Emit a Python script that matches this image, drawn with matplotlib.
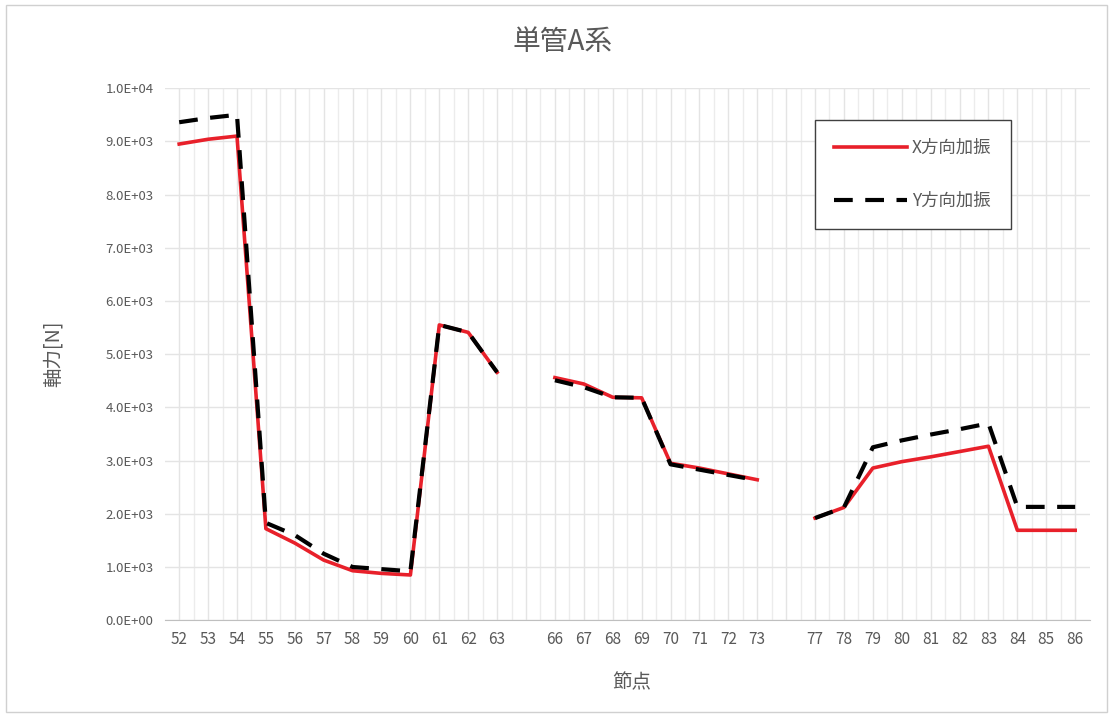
import numpy as np
import matplotlib
matplotlib.use('Agg')
import matplotlib.pyplot as plt
from matplotlib.patches import Rectangle
from matplotlib.ticker import FuncFormatter, MultipleLocator

plt.rcParams['font.family'] = ['Noto Sans CJK JP', 'DejaVu Sans']

# 節点 (空白 = 欠番)
nodes = ['52', '53', '54', '55', '56', '57', '58', '59', '60', '61', '62', '63', '',
         '66', '67', '68', '69', '70', '71', '72', '73', '',
         '77', '78', '79', '80', '81', '82', '83', '84', '85', '86']

# X方向加振
x_force = [8950, 9040, 9100, 1720, 1450, 1130, 930, 880, 850, 5550, 5410, 4660, np.nan,
           4560, 4440, 4190, 4180, 2950, 2860, 2750, 2640, np.nan,
           1920, 2120, 2860, 2980, 3070, 3170, 3270, 1690, 1690, 1690]

# Y方向加振
y_force = [9360, 9440, 9500, 1830, 1600, 1250, 1000, 960, 920, 5550, 5410, 4660, np.nan,
           4510, 4380, 4190, 4180, 2930, 2830, 2730, 2630, np.nan,
           1920, 2120, 3250, 3380, 3490, 3590, 3700, 2130, 2130, 2130]

GRAY = '#595959'

fig = plt.figure(figsize=(11.13, 7.17), dpi=100)
ax = fig.add_axes([0.148, 0.135, 0.831, 0.742])

pos = np.arange(len(nodes))
ax.plot(pos, x_force, color='#e8202a', lw=2.6, label='X方向加振', zorder=3)
ax.plot(pos, y_force, color='black', lw=3, ls=(0, (4.5, 3)), label='Y方向加振', zorder=4)

ax.set_xlim(-0.5, len(nodes) - 0.5)
ax.set_ylim(0, 10000)
ax.set_xticks(pos)
ax.set_xticklabels(nodes)
ax.set_xticks(pos[:-1] + 0.5, minor=True)
ax.yaxis.set_major_locator(MultipleLocator(1000))
ax.yaxis.set_major_formatter(FuncFormatter(lambda v, p: '%.1E' % v))

ax.grid(True, which='major', color='#e4e4e4', lw=1)
ax.grid(True, which='minor', axis='x', color='#ececec', lw=1)
ax.set_axisbelow(True)
ax.tick_params(which='both', length=0, colors=GRAY)
ax.tick_params(axis='y', labelsize=9.5, pad=8)
ax.tick_params(axis='x', labelsize=11, pad=8)
for s in ['top', 'right', 'left']:
    ax.spines[s].set_visible(False)
ax.spines['bottom'].set_color('#bfbfbf')

fig.text(0.505, 0.941, '単管A系', fontsize=20, color=GRAY, ha='center', va='center')
ax.set_ylabel('軸力[N]', fontsize=14, color=GRAY, labelpad=30)
ax.set_xlabel('節点', fontsize=14, color=GRAY, labelpad=18)
ax.xaxis.set_label_coords(0.505, -0.098)

leg = ax.legend(loc='upper left', bbox_to_anchor=(0.703, 0.94), fancybox=False,
                edgecolor='#404040', framealpha=1, fontsize=12.5, labelspacing=2.0,
                handlelength=4.2, handletextpad=0.3, borderpad=1.1, borderaxespad=0)
leg.get_frame().set_linewidth(1)
for t in leg.get_texts():
    t.set_color(GRAY)

fig.patches.append(Rectangle((0.005, 0.007), 0.99, 0.986, transform=fig.transFigure,
                             fill=False, edgecolor='#d0d0d0', lw=1))

fig.savefig('out.png', dpi=100)
